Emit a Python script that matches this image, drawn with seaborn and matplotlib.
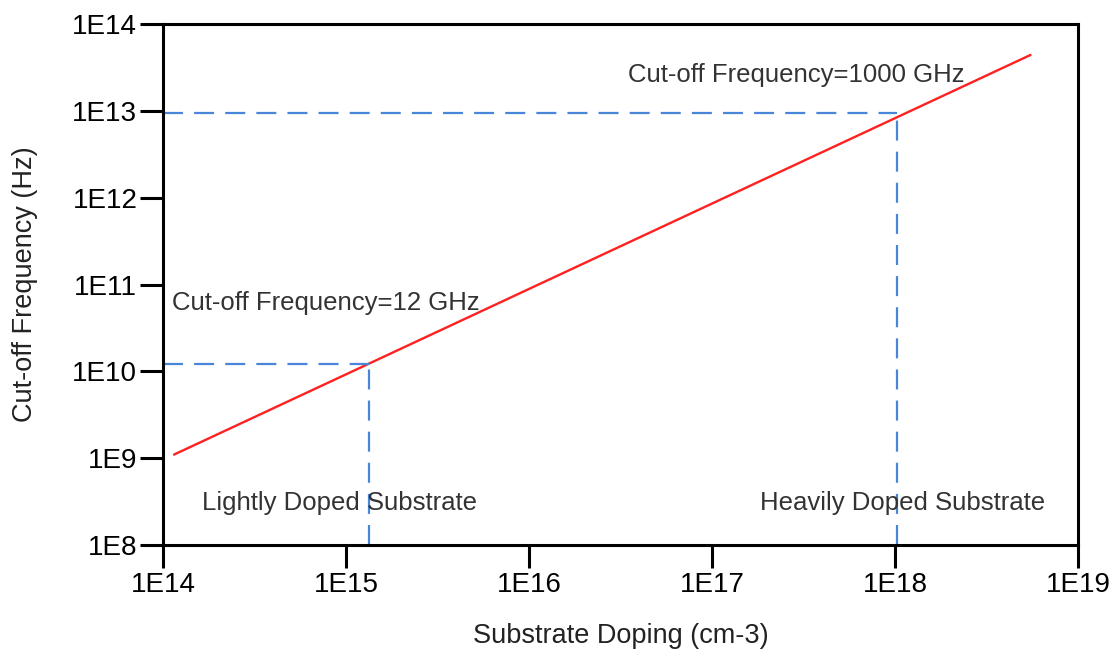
import matplotlib
matplotlib.use("Agg")
import matplotlib.pyplot as plt
import seaborn as sns
import pandas as pd

# Cut-off frequency vs substrate doping (log-log)
doping = [1.15e14, 5.5e18]          # cm^-3
cutoff_freq = [1.1e9, 4.4e13]       # Hz

# Reference operating points
light_doping, light_freq = 1.34e15, 1.2e10
heavy_doping, heavy_freq = 1.03e18, 9.5e12

x_ticks = [1e14, 1e15, 1e16, 1e17, 1e18, 1e19]
x_tick_labels = ["1E14", "1E15", "1E16", "1E17", "1E18", "1E19"]
y_ticks = [1e8, 1e9, 1e10, 1e11, 1e12, 1e13, 1e14]
y_tick_labels = ["1E8", "1E9", "1E10", "1E11", "1E12", "1E13", "1E14"]

sns.set_theme(style="white")
plt.rcParams["font.family"] = ["Liberation Sans", "DejaVu Sans"]

fig = plt.figure(figsize=(11.2, 6.56), dpi=100)
ax = fig.add_axes([0.1455, 0.1692, 0.8170, 0.7942])

df = pd.DataFrame({"doping": doping, "freq": cutoff_freq})
sns.lineplot(data=df, x="doping", y="freq", ax=ax, color="#ff2020", linewidth=1.7)

ax.set_xscale("log")
ax.set_yscale("log")
ax.set_xlim(1e14, 1e19)
ax.set_ylim(1e8, 1e14)

dash_kw = dict(color="#4a86d8", linewidth=1.6, dashes=(9, 5))
for xd, yf in [(light_doping, light_freq), (heavy_doping, heavy_freq)]:
    ax.plot([1e14, xd], [yf, yf], **dash_kw)
    ax.plot([xd, xd], [1e8, yf], **dash_kw)

ax.set_xticks(x_ticks)
ax.set_xticklabels(x_tick_labels)
ax.set_yticks(y_ticks)
ax.set_yticklabels(y_tick_labels)
ax.minorticks_off()
ax.tick_params(axis="both", which="major", direction="out", length=16.5,
               width=2.2, color="black", labelsize=20, pad=2, labelcolor="black")
ax.tick_params(axis="x", pad=3)
ax.tick_params(bottom=True, left=True)

for sp in ax.spines.values():
    sp.set_color("black")
    sp.set_linewidth(2.2)

ax.set_xlabel("Substrate Doping (cm-3)", fontsize=19.5, color="#222222")
ax.set_ylabel("Cut-off Frequency (Hz)", fontsize=19.5, color="#222222")
ax.xaxis.set_label_coords(0.5, -0.1747)
ax.yaxis.set_label_coords(-0.1508, 0.5)
ax.xaxis.label.set_va("center")
ax.yaxis.label.set_va("center")

txt_kw = dict(fontsize=18.5, color="#333333", va="center", ha="center")
ax.text(2.88e17, 2.59e13, "Cut-off Frequency=1000 GHz", **txt_kw)
ax.text(7.78e14, 6.12e10, "Cut-off Frequency=12 GHz", **txt_kw)
ax.text(9.27e14, 3.05e8, "Lightly Doped Substrate", **txt_kw)
ax.text(1.10e18, 3.05e8, "Heavily Doped Substrate", **txt_kw)

fig.savefig("out.png", dpi=100)
